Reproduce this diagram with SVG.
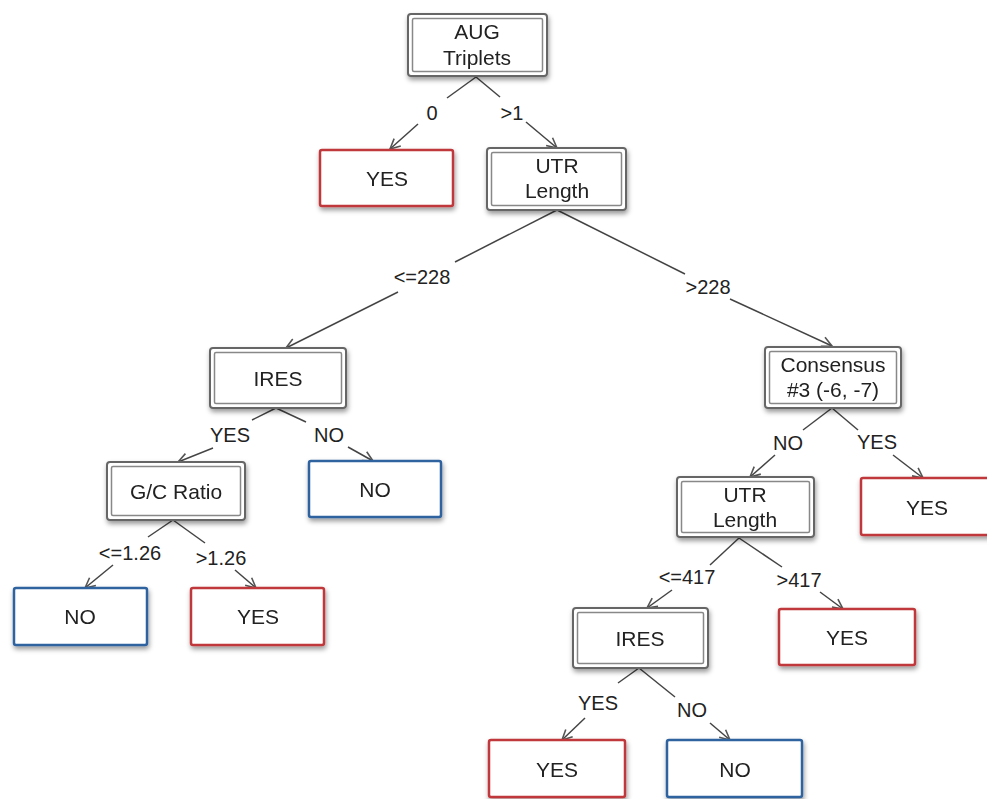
<svg xmlns="http://www.w3.org/2000/svg" width="987" height="799" viewBox="0 0 987 799">
<defs>
<filter id="sh" x="-10%" y="-10%" width="125%" height="140%">
<feDropShadow dx="1" dy="3" stdDeviation="2.5" flood-color="#000" flood-opacity="0.4"/>
</filter>
<marker id="ar" viewBox="0 0 12 12" refX="11" refY="6" markerWidth="12" markerHeight="12" markerUnits="userSpaceOnUse" orient="auto">
<path d="M1,1 L11,6 L1,11" fill="none" stroke="#555" stroke-width="1.6"/>
</marker>
</defs>
<style>
text{font-family:"Liberation Sans",Arial,sans-serif;font-size:21px;fill:#222;text-anchor:middle}
.lbl{font-size:20px}
.o{fill:#fff;stroke:#666;stroke-width:2}
.i{fill:none;stroke:#888;stroke-width:1.5}
.red{fill:#fff;stroke:#c0393b;stroke-width:2.5}
.blue{fill:#fff;stroke:#2f63a0;stroke-width:2.5}
.e line{stroke:#444;stroke-width:1.5}
.e line.a{marker-end:url(#ar)}
</style>
<rect width="987" height="799" fill="#fff"/>
<g id="connectors" class="e">
<line x1="476" y1="77" x2="447" y2="98"/><line class="a" x1="418" y1="124" x2="390" y2="149"/>
<line x1="476" y1="77" x2="500" y2="97"/><line class="a" x1="526" y1="122" x2="557" y2="148"/>
<line x1="557" y1="210" x2="455" y2="262"/><line class="a" x1="398" y1="292" x2="286" y2="348"/>
<line x1="557" y1="210" x2="685" y2="274"/><line class="a" x1="730" y1="299" x2="832" y2="346"/>
<line x1="276" y1="408" x2="252" y2="420"/><line class="a" x1="213" y1="448" x2="178" y2="462"/>
<line x1="276" y1="408" x2="306" y2="422"/><line class="a" x1="348" y1="447" x2="373" y2="461"/>
<line x1="173" y1="520" x2="148" y2="537"/><line class="a" x1="113" y1="565" x2="85" y2="588"/>
<line x1="173" y1="520" x2="205" y2="543"/><line class="a" x1="235" y1="570" x2="256" y2="588"/>
<line x1="832" y1="408" x2="803" y2="430"/><line class="a" x1="775" y1="455" x2="750" y2="477"/>
<line x1="832" y1="408" x2="858" y2="430"/><line class="a" x1="893" y1="455" x2="923" y2="478"/>
<line x1="739" y1="538" x2="710" y2="565"/><line class="a" x1="672" y1="590" x2="647" y2="608"/>
<line x1="739" y1="538" x2="782" y2="567"/><line class="a" x1="820" y1="592" x2="843" y2="609"/>
<line x1="639" y1="668" x2="618" y2="683"/><line class="a" x1="585" y1="718" x2="562" y2="740"/>
<line x1="639" y1="668" x2="675" y2="697"/><line class="a" x1="710" y1="723" x2="730" y2="740"/>
<text class="lbl" x="432" y="120">0</text>
<text class="lbl" x="512" y="120">&gt;1</text>
<text class="lbl" x="422" y="284">&lt;=228</text>
<text class="lbl" x="708" y="294">&gt;228</text>
<text class="lbl" x="230" y="442">YES</text>
<text class="lbl" x="329" y="442">NO</text>
<text class="lbl" x="130" y="560">&lt;=1.26</text>
<text class="lbl" x="221" y="565">&gt;1.26</text>
<text class="lbl" x="788" y="450">NO</text>
<text class="lbl" x="877" y="449">YES</text>
<text class="lbl" x="687" y="584">&lt;=417</text>
<text class="lbl" x="799" y="587">&gt;417</text>
<text class="lbl" x="598" y="710">YES</text>
<text class="lbl" x="692" y="717">NO</text>
</g>
<g id="aug" filter="url(#sh)"><rect class="o" x="408" y="14" width="139" height="62" rx="3"/><rect class="i" x="412.5" y="18.5" width="130" height="53" rx="1.5"/><text x="477" y="39">AUG</text><text x="477" y="65">Triplets</text></g>
<g id="yes1" filter="url(#sh)"><rect class="red" x="320" y="150" width="133" height="56" rx="2"/><text x="387" y="186">YES</text></g>
<g id="utr1" filter="url(#sh)"><rect class="o" x="487" y="148" width="139" height="62" rx="3"/><rect class="i" x="491.5" y="152.5" width="130" height="53" rx="1.5"/><text x="557" y="173">UTR</text><text x="557" y="198">Length</text></g>
<g id="ires1" filter="url(#sh)"><rect class="o" x="210" y="348" width="136" height="60" rx="3"/><rect class="i" x="214.5" y="352.5" width="127" height="51" rx="1.5"/><text x="278" y="386">IRES</text></g>
<g id="consensus" filter="url(#sh)"><rect class="o" x="765" y="347" width="136" height="61" rx="3"/><rect class="i" x="769.5" y="351.5" width="127" height="52" rx="1.5"/><text x="833" y="372">Consensus</text><text x="833" y="397">#3 (-6, -7)</text></g>
<g id="gc" filter="url(#sh)"><rect class="o" x="107" y="462" width="138" height="58" rx="3"/><rect class="i" x="111.5" y="466.5" width="129" height="49" rx="1.5"/><text x="176" y="499">G/C Ratio</text></g>
<g id="no1" filter="url(#sh)"><rect class="blue" x="309" y="461" width="132" height="56" rx="2"/><text x="375" y="497">NO</text></g>
<g id="no2" filter="url(#sh)"><rect class="blue" x="14" y="588" width="133" height="57" rx="2"/><text x="80" y="624">NO</text></g>
<g id="yes2" filter="url(#sh)"><rect class="red" x="191" y="588" width="133" height="57" rx="2"/><text x="258" y="624">YES</text></g>
<g id="utr2" filter="url(#sh)"><rect class="o" x="677" y="477" width="137" height="60" rx="3"/><rect class="i" x="681.5" y="481.5" width="128" height="51" rx="1.5"/><text x="745" y="502">UTR</text><text x="745" y="527">Length</text></g>
<g id="yes3" filter="url(#sh)"><rect class="red" x="861" y="478" width="134" height="57" rx="2"/><text x="927" y="515">YES</text></g>
<g id="ires2" filter="url(#sh)"><rect class="o" x="573" y="608" width="135" height="60" rx="3"/><rect class="i" x="577.5" y="612.5" width="126" height="51" rx="1.5"/><text x="640" y="646">IRES</text></g>
<g id="yes4" filter="url(#sh)"><rect class="red" x="779" y="609" width="136" height="56" rx="2"/><text x="847" y="645">YES</text></g>
<g id="yes5" filter="url(#sh)"><rect class="red" x="489" y="740" width="136" height="57" rx="2"/><text x="557" y="777">YES</text></g>
<g id="no3" filter="url(#sh)"><rect class="blue" x="667" y="740" width="135" height="57" rx="2"/><text x="735" y="777">NO</text></g>
</svg>
